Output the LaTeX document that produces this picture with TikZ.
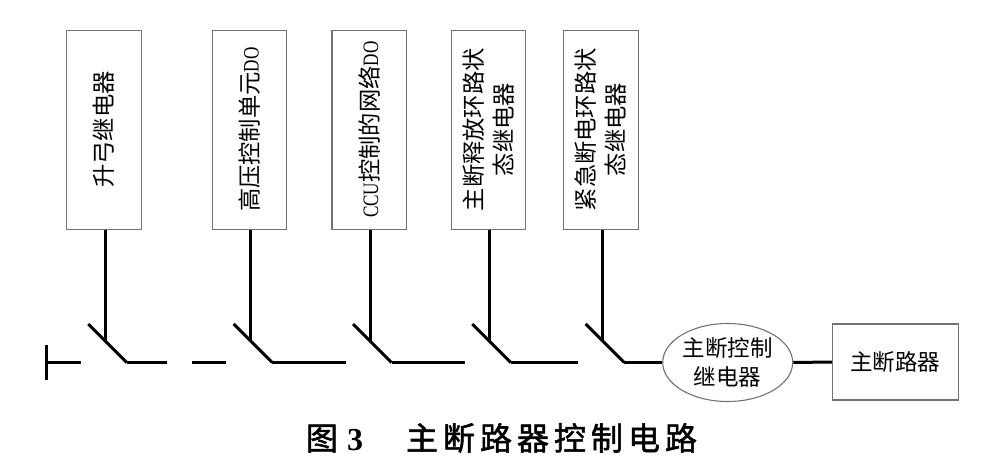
\documentclass[tikz,border=0pt]{standalone}
\usepackage{fontspec}
\usepackage{graphicx}
\setmainfont{Liberation Serif}
\newfontfamily\cjk{Noto Sans CJK SC}
\newfontfamily\cjkcap[FakeBold=1.6]{Noto Sans CJK SC}
\usetikzlibrary{shapes.geometric}
\definecolor{boxgray}{RGB}{115,115,115}
\newcommand{\lat}[1]{\scalebox{0.78}[1]{\rmfamily\fontsize{22}{22}\selectfont #1}}
\tikzset{
  wire/.style={line width=3pt, black},
  vbox/.style={draw=boxgray, line width=1.1pt, rotate=90, minimum width=199pt,
    minimum height=74.5pt, inner sep=0pt, align=center,
    font=\cjk\fontsize{23.3}{30}\selectfont},
  hbox/.style={draw=boxgray, line width=1.1pt, inner sep=0pt, align=center,
    font=\cjk\fontsize{22.5}{28.5}\selectfont},
}
\begin{document}
\begin{tikzpicture}[x=1pt,y=-1pt]
\useasboundingbox[fill=white] (0,0) rectangle (1003,465);

% boxes
\node[vbox] (b1) at (103.85,129.65) {升弓继电器};
\node[vbox] (b2) at (249.65,129.65) {高压控制单元\lat{DO}};
\node[vbox] (b3) at (369.2,129.65) {\lat{CCU}控制的网络\lat{DO}};
\node[vbox] (b4) at (488.5,129.65) {主断释放环路状\\态继电器};
\node[vbox] (b5) at (601,129.65) {紧急断电环路状\\态继电器};

\node[hbox, ellipse, minimum width=130pt, minimum height=78pt] (relay) at (727.7,362.5) {主断控制\\继电器};
\node[hbox, minimum width=126pt, minimum height=76pt] (cb) at (895.3,362) {主断路器};

% switch coordinates
\foreach \i/\v in {1/105.3,2/250.7,3/370,4/489.3,5/602.7}{
  \coordinate (k\i) at (\v,341);
  \coordinate (d\i) at (\v-17,324);
  \coordinate (e\i) at (\v+21.5,362.5);
}
\coordinate (t1) at (46.7,345);
\coordinate (t2) at (46.7,379.5);
\coordinate (t3) at (46.7,362.5);
\coordinate (t4) at (80.7,362.5);
\coordinate (h1) at (166.7,362.5);
\coordinate (g1) at (191.7,362.5);
\coordinate (g2) at (226,362.5);
\coordinate (h2) at (346,362.5);
\coordinate (h3) at (465,362.5);
\coordinate (h4) at (577.7,362.5);

% verticals from boxes and switch blades
\foreach \i in {1,...,5}{
  \draw[wire] (k\i |- b\i.west) -- (k\i);
  \draw[wire] (d\i) -- (e\i);
}
\draw[wire] (t1) -- (t2);
\draw[wire] (t3) -- (t4);
\draw[wire] (e1) -- (h1);
\draw[wire] (g1) -- (g2);
\draw[wire] (e2) -- (h2);
\draw[wire] (e3) -- (h3);
\draw[wire] (e4) -- (h4);
\draw[wire] (e5) -- (relay.west);
\draw[wire] (relay.east) -- (cb.west);

% caption
\node[inner sep=0pt, font=\cjkcap\fontsize{32}{32}\selectfont] (cap) at (501.5,438)
  {图\hspace{9pt}{\rmfamily\bfseries 3}\hspace{43pt}主\hspace{5pt}断\hspace{5pt}路\hspace{5pt}器\hspace{5pt}控\hspace{5pt}制\hspace{5pt}电\hspace{5pt}路};
\end{tikzpicture}
\end{document}
